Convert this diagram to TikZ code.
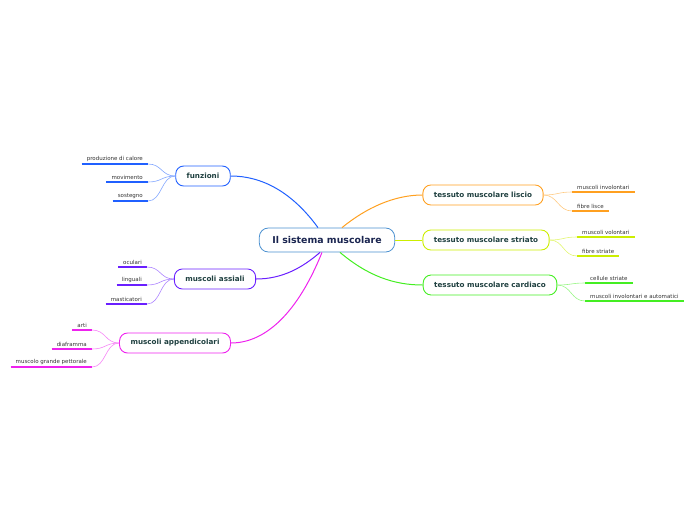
\documentclass[tikz,border=0pt]{standalone}
\usepackage{fontspec}
\setmainfont{DejaVu Sans}
\usepackage{tikz}

\definecolor{cblue}{HTML}{2060FF}
\definecolor{cpurple}{HTML}{6A1FFF}
\definecolor{cmagenta}{HTML}{EE22EE}
\definecolor{corange}{HTML}{FFA020}
\definecolor{cyellow}{HTML}{CCEE00}
\definecolor{cgreen}{HTML}{44EE22}
\definecolor{ccentre}{HTML}{4A90D0}
\definecolor{ctext}{HTML}{1F4040}
\definecolor{cnavy}{HTML}{1A2550}

\tikzset{
  mainbox/.style={draw=#1, line width=0.9pt, rounded corners=8pt, fill=white,
    minimum height=20pt, inner xsep=11pt, inner ysep=2pt,
    font=\fontsize{7.2}{8}\selectfont\bfseries, text=ctext},
  leaf/.style={inner xsep=5pt, inner ysep=2.5pt, font=\fontsize{5.5}{6}\selectfont, text=black!80},
  underline/.style={line width=1.7pt, #1},
  twig/.style={line width=0.6pt, #1!55},
  branch/.style={line width=1pt, #1}
}

\begin{document}
\begin{tikzpicture}[x=1pt, y=-1pt]
  \useasboundingbox (0,0) rectangle (696,520);

  % Draw the central topic
  \node[draw=ccentre, line width=0.8pt, rounded corners=9pt, fill=white, minimum height=24pt,
    inner xsep=13pt, font=\fontsize{9.4}{10}\selectfont\bfseries, text=cnavy]
    (centre) at (327,240) {Il sistema muscolare};

  % Draw the main topics
  \node[mainbox=cblue] (fu) at (203,176) {funzioni};
  \node[mainbox=cpurple] (as) at (215,279) {muscoli assiali};
  \node[mainbox=cmagenta] (ap) at (175,343) {muscoli appendicolari};
  \node[mainbox=corange] (li) at (483,195) {tessuto muscolare liscio};
  \node[mainbox=cyellow] (st) at (486,240) {tessuto muscolare striato};
  \node[mainbox=cgreen] (ca) at (490,285) {tessuto muscolare cardiaco};

  % Draw the branches from the centre
  \draw[branch=cblue] ([xshift=-9pt]centre.north) .. controls (292,192) and (262,176) .. (fu.east);
  \draw[branch=cpurple] ([xshift=-7pt]centre.south) .. controls (302,268) and (282,279) .. (as.east);
  \draw[branch=cmagenta] ([xshift=-5pt]centre.south) .. controls (298,312) and (266,343) .. (ap.east);
  \draw[branch=corange] ([xshift=15pt]centre.north) .. controls (366,208) and (394,195) .. (li.west);
  \draw[branch=cyellow] (centre.east) -- (st.west);
  \draw[branch=cgreen] ([xshift=13pt]centre.south) .. controls (368,276) and (394,285) .. (ca.west);

  % Draw the leaves on the left
  \foreach \name/\txt/\y in {pc/produzione di calore/164, mv/movimento/182, sg/sostegno/201} {
    \node[leaf, anchor=south east] (\name) at (148,\y) {\txt};
    \draw[underline=cblue] (\name.south west) -- (\name.south east);
    \draw[twig=cblue] (fu.west) .. controls +(-14,0) and +(14,0) .. (\name.south east);
  }
  \foreach \name/\txt/\y in {oc/oculari/267, lg/linguali/285, ms/masticatori/304} {
    \node[leaf, anchor=south east] (\name) at (147,\y) {\txt};
    \draw[underline=cpurple] (\name.south west) -- (\name.south east);
    \draw[twig=cpurple] (as.west) .. controls +(-14,0) and +(14,0) .. (\name.south east);
  }
  \foreach \name/\txt/\y in {ar/arti/330, df/diaframma/349, mp/muscolo grande pettorale/367} {
    \node[leaf, anchor=south east] (\name) at (92,\y) {\txt};
    \draw[underline=cmagenta] (\name.south west) -- (\name.south east);
    \draw[twig=cmagenta] (ap.west) .. controls +(-14,0) and +(14,0) .. (\name.south east);
  }

  % Draw the leaves on the right
  \foreach \name/\txt/\y in {mi/muscoli involontari/192, fl/fibre lisce/211} {
    \node[leaf, anchor=south west] (\name) at (572,\y) {\txt};
    \draw[underline=corange] (\name.south west) -- (\name.south east);
    \draw[twig=corange] (li.east) .. controls +(14,0) and +(-14,0) .. (\name.south west);
  }
  \foreach \name/\txt/\y in {vo/muscoli volontari/237, fs/fibre striate/256} {
    \node[leaf, anchor=south west] (\name) at (577,\y) {\txt};
    \draw[underline=cyellow] (\name.south west) -- (\name.south east);
    \draw[twig=cyellow] (st.east) .. controls +(14,0) and +(-14,0) .. (\name.south west);
  }
  \foreach \name/\txt/\y in {cs/cellule striate/283, ia/muscoli involontari e automatici/301} {
    \node[leaf, anchor=south west] (\name) at (585,\y) {\txt};
    \draw[underline=cgreen] (\name.south west) -- (\name.south east);
    \draw[twig=cgreen] (ca.east) .. controls +(14,0) and +(-14,0) .. (\name.south west);
  }
\end{tikzpicture}
\end{document}
